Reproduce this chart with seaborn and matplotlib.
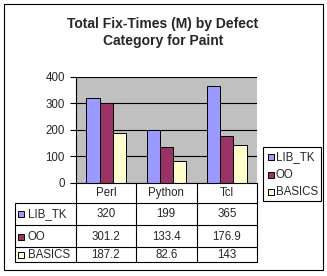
import matplotlib
matplotlib.use("Agg")
import matplotlib.pyplot as plt
import seaborn as sns
import pandas as pd
from matplotlib.lines import Line2D
from matplotlib.patches import Rectangle

categories = ["Perl", "Python", "Tcl"]
series_names = ["LIB_TK", "OO", "BASICS"]
lib_tk = [320, 199, 365]
oo = [301.2, 133.4, 176.9]
basics = [187.2, 82.6, 143]
table_text = {
    "LIB_TK": ["320", "199", "365"],
    "OO": ["301.2", "133.4", "176.9"],
    "BASICS": ["187.2", "82.6", "143"],
}
yticks = [0, 100, 200, 300, 400]
colors = ["#9999FF", "#993366", "#FFFFCC"]
title = "Total Fix-Times (M) by Defect\nCategory for Paint"

df = pd.DataFrame({
    "cat": categories * 3,
    "series": [s for s in series_names for _ in categories],
    "value": lib_tk + oo + basics,
})

W, H = 327, 276
FS = 8.3
sns.set_style("white")
plt.rcParams["font.family"] = ["Liberation Sans", "DejaVu Sans"]
fig = plt.figure(figsize=(W / 100, H / 100), dpi=100)
fig.patch.set_facecolor("white")

def fx(x):
    return x / W

def fy(y):
    return 1 - y / H

L, R, T, B = 76, 257, 76.7, 182.7
ax = fig.add_axes([fx(L), fy(B), fx(R) - fx(L), fy(T) - fy(B)])
ax.set_facecolor("#C0C0C0")
sns.barplot(data=df, x="cat", y="value", hue="series", hue_order=series_names,
            palette=colors, width=0.66, edgecolor="black", linewidth=0.7,
            saturation=1, ax=ax, legend=False, errorbar=None, zorder=3)
ax.set_ylim(0, 400)
ax.set_xlim(-0.5, 2.5)
ax.set_yticks(yticks)
ax.set_yticklabels([str(v) for v in yticks], fontsize=FS)
ax.set_xticks([])
ax.set_xlabel("")
ax.set_ylabel("")
for v in yticks:
    ax.axhline(v, color="black", linewidth=0.8, zorder=1)
ax.tick_params(axis="y", direction="out", length=4, width=0.8, color="black", pad=4, left=True)
for s in ["top", "right", "bottom"]:
    ax.spines[s].set_visible(False)
ax.spines["left"].set_color("black")
ax.spines["left"].set_linewidth(0.8)

def line(x0, y0, x1, y1, lw=0.8):
    fig.add_artist(Line2D([fx(x0), fx(x1)], [fy(y0), fy(y1)], color="black", linewidth=lw))

# outer chart border
fig.add_artist(Rectangle((fx(4), fy(270)), fx(323) - fx(4), fy(4) - fy(270),
                         fill=False, edgecolor="black", linewidth=0.8))

fig.text(fx(163), fy(32.5), title, ha="center", va="center", fontsize=10,
         fontweight="bold", linespacing=1.35)

# data table
rows_y = [B, 202.7, 225, 247.3, 261.7]
cols_x = [L, 135.7, 196.7, R]
TL = 14.7
line(L, B, R, B)
for yy in rows_y[1:]:
    line(TL, yy, R, yy)
line(TL, rows_y[1], TL, rows_y[-1])
for xx in cols_x:
    line(xx, B, xx, rows_y[-1])
for i, c in enumerate(categories):
    fig.text(fx((cols_x[i] + cols_x[i + 1]) / 2), fy((rows_y[0] + rows_y[1]) / 2 + 0.5), c,
             ha="center", va="center", fontsize=FS)
for r, s in enumerate(series_names):
    yc = (rows_y[r + 1] + rows_y[r + 2]) / 2 + 0.5
    fig.add_artist(Rectangle((fx(17.5), fy(yc + 3)), fx(6), fy(0) - fy(6),
                             facecolor=colors[r], edgecolor="black", linewidth=0.7))
    fig.text(fx(28), fy(yc), s, ha="left", va="center", fontsize=FS)
    for i in range(3):
        fig.text(fx((cols_x[i] + cols_x[i + 1]) / 2), fy(yc), table_text[s][i],
                 ha="center", va="center", fontsize=FS)

# legend
fig.add_artist(Rectangle((fx(263.3), fy(201)), fx(320.7) - fx(263.3), fy(147.3) - fy(201),
                         fill=False, edgecolor="black", linewidth=0.8))
for r, (s, yc) in enumerate(zip(series_names, [157.3, 175, 191.7])):
    fig.add_artist(Rectangle((fx(267.5), fy(yc + 3)), fx(6), fy(0) - fy(6),
                             facecolor=colors[r], edgecolor="black", linewidth=0.7))
    fig.text(fx(276), fy(yc), s, ha="left", va="center", fontsize=FS)

fig.savefig("out.png", dpi=100)
